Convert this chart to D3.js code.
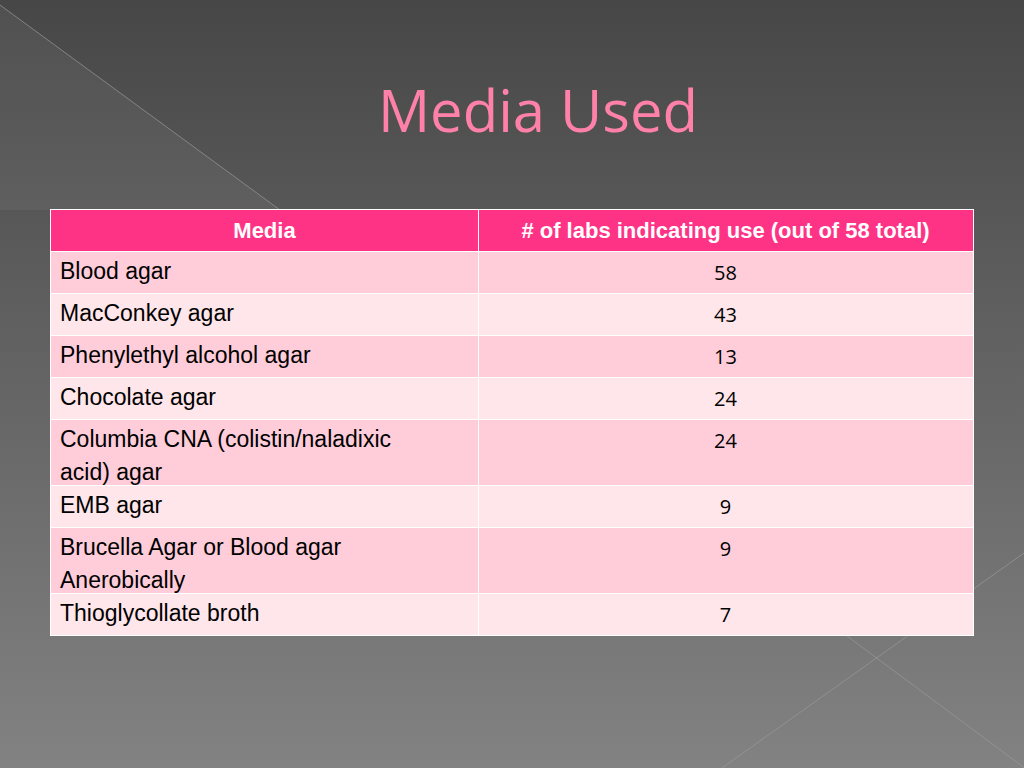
<!DOCTYPE html><html><head><meta charset="utf-8"><script src="https://cdn.jsdelivr.net/npm/d3@7"></script>
<style>body{margin:0;overflow:hidden}</style></head><body><svg id="s" width="1024" height="768"></svg>
<script>
const header = ["Media", "# of labs indicating use (out of 58 total)"];
const media = [["Blood agar"],["MacConkey agar"],["Phenylethyl alcohol agar"],["Chocolate agar"],["Columbia CNA (colistin/naladixic","acid) agar"],["EMB agar"],["Brucella Agar or Blood agar","Anerobically"],["Thioglycollate broth"]];
const counts = [58,43,13,24,24,9,9,7];

const svg = d3.select("#s");
const defs = svg.append("defs");
const g = defs.append("linearGradient").attr("id","bg").attr("x1",0).attr("y1",0).attr("x2",0).attr("y2",1);
g.append("stop").attr("offset","0").attr("stop-color","#474747");
g.append("stop").attr("offset","1").attr("stop-color","#828282");
svg.append("rect").attr("width",1024).attr("height",768).attr("fill","url(#bg)");
svg.append("path").attr("d","M0,5 L280,210 L0,210 Z").attr("fill","#ffffff").attr("opacity",0.05);
const ln = [[0,5,280,210],[1024,553,722,768],[843,633,1030,772]];
svg.selectAll("line.bgl").data(ln).join("line").attr("x1",d=>d[0]).attr("y1",d=>d[1]).attr("x2",d=>d[2]).attr("y2",d=>d[3]).attr("stroke","#9a9a9a").attr("stroke-width",1).attr("opacity",0.7);

svg.append("text").attr("x",538).attr("y",132).attr("text-anchor","middle").attr("font-family","Open Sans").attr("font-size",58).attr("fill","#ff80a8").text("Media Used");

const rowH = media.map(m=>m.length>1?65:41);
const tops=[]; let y=252; rowH.forEach(h=>{tops.push(y); y+=h+1;});
const x0=51,x1=478,x2=973;
svg.append("rect").attr("x",x0-1).attr("y",209).attr("width",x2-x0+2).attr("height",y-209).attr("fill","#ffffff");
svg.append("rect").attr("x",x0).attr("y",210).attr("width",x1-x0).attr("height",41).attr("fill","#ff3385");
svg.append("rect").attr("x",x1+1).attr("y",210).attr("width",x2-x1-1).attr("height",41).attr("fill","#ff3385");
svg.selectAll("text.h").data(header).join("text").attr("x",(d,i)=>i?(x1+x2)/2:(x0+x1)/2).attr("y",238).attr("text-anchor","middle").attr("font-family","Liberation Sans").attr("font-weight","bold").attr("font-size",22).attr("fill","#fff").text(d=>d);
media.forEach((m,i)=>{
  const c=i%2?"#ffe6ea":"#ffcdd9";
  svg.append("rect").attr("x",x0).attr("y",tops[i]).attr("width",x1-x0).attr("height",rowH[i]).attr("fill",c);
  svg.append("rect").attr("x",x1+1).attr("y",tops[i]).attr("width",x2-x1-1).attr("height",rowH[i]).attr("fill",c);
  m.forEach((t,k)=>svg.append("text").attr("x",60).attr("y",tops[i]+27+k*33).attr("font-family","Liberation Sans").attr("font-size",23).attr("fill","#000").text(t));
  svg.append("text").attr("x",(x1+x2)/2).attr("y",tops[i]+28).attr("text-anchor","middle").attr("font-family","Open Sans").attr("font-size",20).attr("fill","#000").text(counts[i]);
});
</script></body></html>
